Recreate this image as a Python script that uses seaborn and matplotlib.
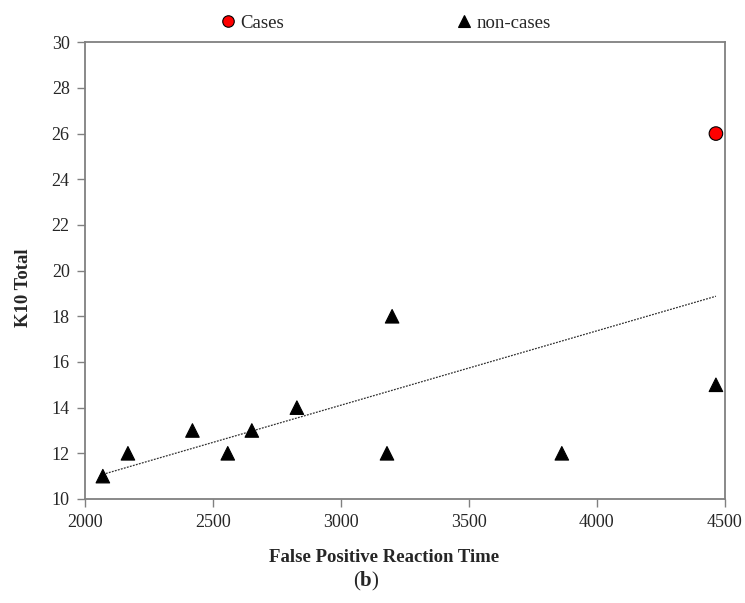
import pandas as pd
import seaborn as sns
import matplotlib.pyplot as plt

# reaction time vs K10 total
reaction_time = [2070, 2168, 2420, 2558, 2652, 2828, 3180, 3200, 3863, 4465, 4465]
k10_total = [11, 12, 13, 12, 13, 14, 12, 18, 12, 15, 26]
group = ['non-cases'] * 10 + ['Cases']

x_ticks = [2000, 2500, 3000, 3500, 4000, 4500]
y_ticks = [10, 12, 14, 16, 18, 20, 22, 24, 26, 28, 30]

sns.set_style('white')
plt.rcParams['font.family'] = ['Liberation Serif', 'DejaVu Serif']
plt.rcParams['mathtext.fontset'] = 'custom'
plt.rcParams['mathtext.rm'] = 'Liberation Serif'
plt.rcParams['mathtext.bf'] = 'Liberation Serif:bold'

df = pd.DataFrame({'time': reaction_time, 'k10': k10_total, 'group': group})

fig = plt.figure(figsize=(7.45, 6.03), dpi=100)
ax = fig.add_axes([0.114, 0.1725, 0.859, 0.7575])

# trend line over all points
sns.regplot(data=df, x='time', y='k10', scatter=False, ci=None, ax=ax,
            line_kws=dict(color='#333333', linewidth=0.9, linestyle=(0, (1.5, 1))))

sns.scatterplot(data=df, x='time', y='k10', hue='group', style='group',
                hue_order=['Cases', 'non-cases'], style_order=['Cases', 'non-cases'],
                palette={'Cases': '#ff0000', 'non-cases': 'black'},
                markers={'Cases': 'o', 'non-cases': '^'},
                s=95, edgecolor='black', linewidth=0.8, ax=ax, zorder=3, clip_on=False,
                legend=True)

ax.set_xlim(2000, 4500)
ax.set_ylim(10, 30)
ax.set_xticks(x_ticks)
ax.set_yticks(y_ticks)
ax.tick_params(axis='both', direction='out', length=6, width=1, color='#808080',
               labelsize=13, pad=5, bottom=True, left=True)
for side in ax.spines.values():
    side.set_color('#808080')
    side.set_linewidth(1.3)

ax.set_xlabel('False Positive Reaction Time', fontsize=13.5, fontweight='bold')
ax.set_ylabel('K10 Total', fontsize=13.5, fontweight='bold')
ax.xaxis.set_label_coords((384 - 85) / 640, -(549 - 499) / 457)
ax.yaxis.set_label_coords(-(85 - 32) / 640, (499 - 288) / 457)

handles, labels = ax.get_legend_handles_labels()
ax.get_legend().remove()
leg_kw = dict(loc='center left', frameon=False, fontsize=13.5, handlelength=0.8,
              handletextpad=0.3, borderpad=0, borderaxespad=0, markerscale=0.85,
              bbox_transform=fig.transFigure)
leg1 = ax.legend([handles[0]], [labels[0]], bbox_to_anchor=(220 / 745, 1 - 23 / 603), **leg_kw)
ax.add_artist(leg1)
ax.legend([handles[1]], [labels[1]], bbox_to_anchor=(456 / 745, 1 - 23 / 603), **leg_kw)

fig.text(366 / 745, 1 - 581 / 603, r'($\mathbf{b}$)', ha='center', va='center', fontsize=15)

fig.savefig('out.png', dpi=100)
